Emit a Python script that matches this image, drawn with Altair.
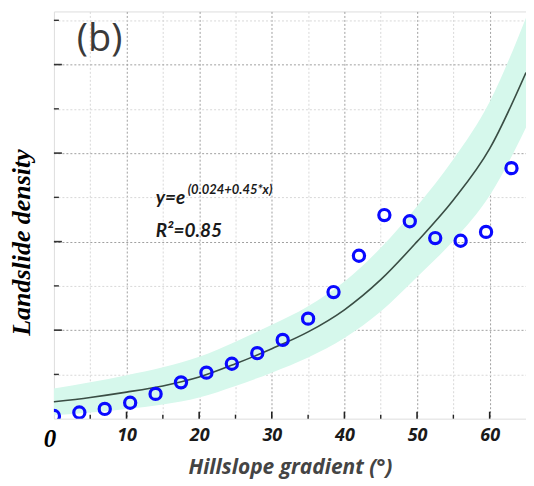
import altair as alt
import pandas as pd

# ---- data ----
slope_x = [0, 3.5, 7, 10.5, 14, 17.5, 21, 24.5, 28, 31.5, 35, 38.5, 42, 45.5, 49, 52.5, 56, 59.5, 63]
density = [0.03, 0.07, 0.11, 0.18, 0.28, 0.41, 0.52, 0.62, 0.74, 0.89, 1.13, 1.43, 1.84, 2.30, 2.23, 2.04, 2.01, 2.11, 2.83]

fit_x = [0, 5, 10, 15, 20, 25, 30, 35, 40, 45, 50, 55, 60, 65]
fit_y = [0.19, 0.24, 0.30, 0.37, 0.47, 0.62, 0.79, 0.98, 1.23, 1.57, 2.00, 2.47, 3.05, 3.91]
band_half = [0.15, 0.17, 0.19, 0.21, 0.23, 0.25, 0.27, 0.29, 0.32, 0.36, 0.40, 0.46, 0.53, 0.62]

x_ticks_major = [10, 20, 30, 40, 50, 60]
x_ticks_minor = [5, 15, 25, 35, 45, 55]
y_ticks_major = [1, 2, 3, 4]
y_ticks_minor = [0.5, 1.5, 2.5, 3.5, 4.5]
x_grid = [5, 10, 15, 20, 25, 30, 35, 40, 45, 50, 55, 60]
y_grid = [0.5, 1, 1.5, 2, 2.5, 3, 3.5, 4, 4.5]

W, H = 473, 408

pts = pd.DataFrame({"x": slope_x, "y": density})
fit = pd.DataFrame({
    "x": fit_x,
    "fit": fit_y,
    "lo": [f - h for f, h in zip(fit_y, band_half)],
    "hi": [f + h for f, h in zip(fit_y, band_half)],
})

xs = alt.Scale(domain=[0, 65], nice=False, zero=False)
ys = alt.Scale(domain=[0, 4.6], nice=False, zero=False)

x_axis = alt.Axis(
    values=x_grid,
    grid=True,
    gridColor=alt.condition("datum.value % 10 === 0", alt.value("#a0a0a0"), alt.value("#d8d8d8")),
    gridDash=[2, 2],
    gridWidth=1,
    domain=False,
    ticks=False,
    labelExpr="datum.value % 10 === 0 ? datum.label : ''",
    labelFont="Open Sans",
    labelFontStyle="italic",
    labelFontWeight="bold",
    labelFontSize=18,
    labelColor="#1a1a1a",
    labelPadding=8,
    title="Hillslope gradient (°)",
    titleFont="Open Sans",
    titleFontStyle="italic",
    titleFontWeight="bold",
    titleFontSize=21,
    titleColor="#444444",
    titlePadding=12,
)

y_axis = alt.Axis(
    values=y_grid,
    grid=True,
    gridColor=alt.condition("datum.value % 1 === 0", alt.value("#a0a0a0"), alt.value("#d8d8d8")),
    gridDash=[2, 2],
    gridWidth=1,
    domain=False,
    ticks=False,
    labels=False,
    title="Landslide density",
    titleFont="Liberation Serif",
    titleFontStyle="italic",
    titleFontWeight="bold",
    titleFontSize=26,
    titleColor="#000000",
    titleAngle=270,
    titleAlign="center",
    titleBaseline="alphabetic",
    titleX=-24,
    titleY=231,
)

band = alt.Chart(fit).mark_area(color="#d6f8ec", interpolate="monotone").encode(
    x=alt.X("x:Q", scale=xs, axis=x_axis),
    y=alt.Y("lo:Q", scale=ys, axis=y_axis),
    y2="hi:Q",
)

line = alt.Chart(fit).mark_line(color="#3a4d44", strokeWidth=1.6, interpolate="monotone").encode(
    x=alt.X("x:Q", scale=xs),
    y=alt.Y("fit:Q", scale=ys),
)

points = alt.Chart(pts).mark_point(
    shape="circle", filled=False, size=125, strokeWidth=3.2, color="#0a0aff", opacity=1, clip=True
).encode(
    x=alt.X("x:Q", scale=xs),
    y=alt.Y("y:Q", scale=ys),
)

xt_major = alt.Chart(pd.DataFrame({"t": x_ticks_major})).mark_rule(color="#222", strokeWidth=1.6).encode(
    x=alt.X("t:Q", scale=xs), y=alt.value(H), y2=alt.value(H - 7)
)
xt_minor = alt.Chart(pd.DataFrame({"t": x_ticks_minor})).mark_rule(color="#222", strokeWidth=1.4).encode(
    x=alt.X("t:Q", scale=xs), y=alt.value(H), y2=alt.value(H - 4)
)
yt_major = alt.Chart(pd.DataFrame({"t": y_ticks_major})).mark_rule(color="#333", strokeWidth=1.6).encode(
    y=alt.Y("t:Q", scale=ys), x=alt.value(0), x2=alt.value(8)
)
yt_minor = alt.Chart(pd.DataFrame({"t": y_ticks_minor})).mark_rule(color="#333", strokeWidth=1.4).encode(
    y=alt.Y("t:Q", scale=ys), x=alt.value(0), x2=alt.value(5)
)

zero_label = alt.Chart(pd.DataFrame({"t": [0], "s": ["0"]})).mark_text(
    font="Liberation Serif", fontStyle="italic", fontWeight="bold", fontSize=25,
    color="#000", baseline="alphabetic", align="center", dx=-4
).encode(x=alt.X("t:Q", scale=xs), y=alt.value(H + 28), text="s:N")

panel = alt.Chart(pd.DataFrame({"s": ["(b)"]})).mark_text(
    font="Open Sans", fontSize=38, color="#3a3a3a", align="left", baseline="alphabetic"
).encode(x=alt.value(23), y=alt.value(40), text="s:N")

eq_main = alt.Chart(pd.DataFrame({"s": ["y=e"]})).mark_text(
    font="Lato", fontStyle="italic", fontWeight="bold", fontSize=19, color="#1a1a1a",
    align="left", baseline="alphabetic"
).encode(x=alt.value(102), y=alt.value(193), text="s:N")

eq_sup = alt.Chart(pd.DataFrame({"s": ["(0.024+0.45*x)"]})).mark_text(
    font="Lato", fontStyle="italic", fontWeight="bold", fontSize=13, color="#1a1a1a",
    align="left", baseline="alphabetic"
).encode(x=alt.value(134), y=alt.value(183), text="s:N")

r2 = alt.Chart(pd.DataFrame({"s": ["R²=0.85"]})).mark_text(
    font="Lato", fontStyle="italic", fontWeight="bold", fontSize=19, color="#1a1a1a",
    align="left", baseline="alphabetic"
).encode(x=alt.value(102), y=alt.value(226), text="s:N")

chart = alt.layer(
    band, line, points, xt_major, xt_minor, yt_major, yt_minor, zero_label, panel, eq_main, eq_sup, r2
).properties(
    width=W, height=H,
    autosize=alt.AutoSizeParams(type="none"),
    padding={"left": 46, "top": 3, "right": 0, "bottom": 66},
).configure_view(
    stroke="#5a5a5a", strokeWidth=2
).configure(background="white")

chart.save("out.html", embed_options={"renderer": "svg", "actions": False})
